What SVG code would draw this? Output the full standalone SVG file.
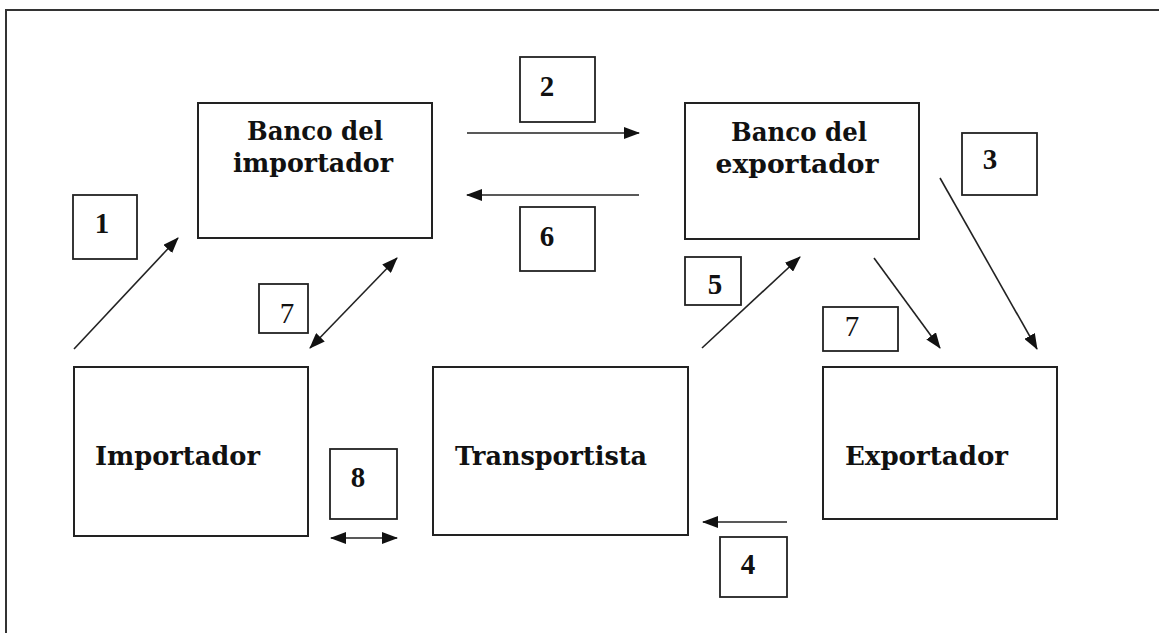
<svg xmlns="http://www.w3.org/2000/svg" width="1159" height="633" viewBox="0 0 1159 633">
<style>
.box{fill:#fff;stroke:#222;stroke-width:2}
.lbl{fill:#fff;stroke:#222;stroke-width:1.8}
.t{font-family:"DejaVu Serif","Liberation Serif",serif;font-weight:bold;font-size:26px;fill:#111}
.n{font-family:"Liberation Serif","DejaVu Serif",serif;font-weight:bold;font-size:29px;fill:#111;text-anchor:middle}
.nr{font-weight:normal}
.c{stroke:#222;stroke-width:1.6;fill:none}
</style>
<defs>
<marker id="ah" viewBox="0 0 16 12" refX="15" refY="6" markerWidth="16" markerHeight="12" markerUnits="userSpaceOnUse" orient="auto-start-reverse">
<path d="M0,0 L16,6 L0,12 Z" fill="#111"/>
</marker>
</defs>
<rect x="6" y="10" width="1200" height="700" fill="none" stroke="#333" stroke-width="2"/>
<g id="connectors">
<line class="c" x1="467" y1="133" x2="639" y2="133" marker-end="url(#ah)"/>
<line class="c" x1="639" y1="195" x2="467" y2="195" marker-end="url(#ah)"/>
<line class="c" x1="74" y1="349" x2="178" y2="238" marker-end="url(#ah)"/>
<line class="c" x1="310" y1="348" x2="397" y2="258" marker-start="url(#ah)" marker-end="url(#ah)"/>
<line class="c" x1="940" y1="178" x2="1037" y2="349" marker-end="url(#ah)"/>
<line class="c" x1="874" y1="258" x2="940" y2="348" marker-end="url(#ah)"/>
<line class="c" x1="702" y1="348" x2="800" y2="257" marker-end="url(#ah)"/>
<line class="c" x1="787" y1="522" x2="703" y2="522" marker-end="url(#ah)"/>
<line class="c" x1="331" y1="538" x2="397" y2="538" marker-start="url(#ah)" marker-end="url(#ah)"/>
</g>
<g id="banco-importador">
<rect class="box" x="198" y="103" width="234" height="135"/>
<text class="t" x="315" y="140" text-anchor="middle" textLength="136" lengthAdjust="spacingAndGlyphs">Banco del</text>
<text class="t" x="313" y="172" text-anchor="middle" textLength="160" lengthAdjust="spacingAndGlyphs">importador</text>
</g>
<g id="banco-exportador">
<rect class="box" x="685" y="103" width="234" height="136"/>
<text class="t" x="799" y="141" text-anchor="middle" textLength="136" lengthAdjust="spacingAndGlyphs">Banco del</text>
<text class="t" x="797" y="173" text-anchor="middle" textLength="163" lengthAdjust="spacingAndGlyphs">exportador</text>
</g>
<g id="importador">
<rect class="box" x="74" y="367" width="234" height="169"/>
<text class="t" x="95" y="465" textLength="165" lengthAdjust="spacingAndGlyphs">Importador</text>
</g>
<g id="transportista">
<rect class="box" x="433" y="367" width="255" height="168"/>
<text class="t" x="455" y="465" textLength="192" lengthAdjust="spacingAndGlyphs">Transportista</text>
</g>
<g id="exportador">
<rect class="box" x="823" y="367" width="234" height="152"/>
<text class="t" x="845" y="465" textLength="163" lengthAdjust="spacingAndGlyphs">Exportador</text>
</g>
<g id="label-1"><rect class="lbl" x="73" y="195" width="64" height="64"/><text class="n" x="102" y="233">1</text></g>
<g id="label-2"><rect class="lbl" x="520" y="57" width="75" height="65"/><text class="n" x="547" y="96">2</text></g>
<g id="label-3"><rect class="lbl" x="962" y="133" width="75" height="62"/><text class="n" x="990" y="169">3</text></g>
<g id="label-4"><rect class="lbl" x="720" y="537" width="67" height="60"/><text class="n" x="748" y="574">4</text></g>
<g id="label-5"><rect class="lbl" x="685" y="257" width="56" height="48"/><text class="n" x="715" y="294">5</text></g>
<g id="label-6"><rect class="lbl" x="520" y="207" width="75" height="64"/><text class="n" x="547" y="246">6</text></g>
<g id="label-7a"><rect class="lbl" x="259" y="284" width="49" height="49"/><text class="n nr" x="287" y="323">7</text></g>
<g id="label-7b"><rect class="lbl" x="823" y="307" width="75" height="44"/><text class="n nr" x="852" y="336">7</text></g>
<g id="label-8"><rect class="lbl" x="330" y="449" width="67" height="70"/><text class="n" x="358" y="487">8</text></g>
</svg>
